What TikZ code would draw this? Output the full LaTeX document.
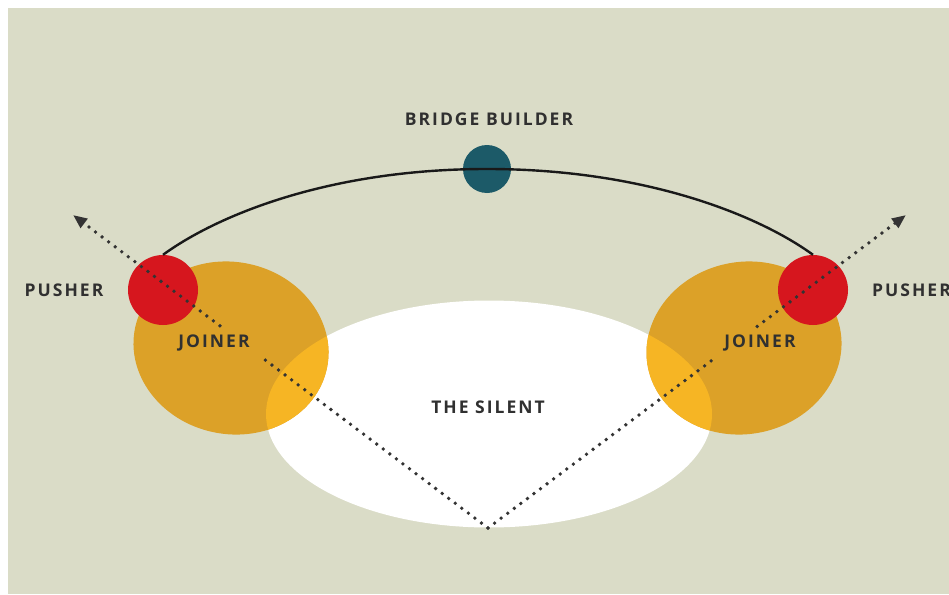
\documentclass[tikz,border=0pt]{standalone}
\usepackage{fontspec}
\usetikzlibrary{arrows.meta}
\newfontfamily\labfont{Open Sans}[LetterSpace=11.5]
\definecolor{bgc}{RGB}{218,220,199}
\definecolor{orangec}{RGB}{220,161,40}
\definecolor{overlapc}{RGB}{246,181,36}
\definecolor{redc}{RGB}{214,22,30}
\definecolor{tealc}{RGB}{28,90,104}
\definecolor{textc}{RGB}{48,48,48}
\tikzset{
  lab/.style={font=\labfont\bfseries\fontsize{17.5}{20}\selectfont, text=textc, inner sep=0pt},
  redball/.style={circle, fill=redc, minimum size=70pt, inner sep=0pt},
  tealball/.style={circle, fill=tealc, minimum size=48pt, inner sep=0pt},
  dotline/.style={line width=3.8pt, line cap=round, dash pattern=on 0pt off 8.2pt, draw=black!80},
  tipped/.style={-{Triangle[length=14pt,width=11pt]}},
  arcline/.style={line width=2.4pt, draw=black!90},
}
\begin{document}
\begin{tikzpicture}[x=1pt,y=-1pt]
\useasboundingbox (0,0) rectangle (949,594);
\fill[white] (0,0) rectangle (949,594);
\fill[bgc] (8,8) rectangle (949,594);
% silent ellipse
\coordinate (sc) at (489,414);
\fill[white] (sc) ellipse [x radius=223, y radius=113.5];
% joiner ellipses
\coordinate (ljc) at (231,348);
\coordinate (rjc) at (744,348);
\fill[orangec, rotate around={-12:(ljc)}] (ljc) ellipse [x radius=98, y radius=86];
\fill[orangec, rotate around={12:(rjc)}] (rjc) ellipse [x radius=98, y radius=86];
\begin{scope}
  \clip (sc) ellipse [x radius=223, y radius=113.5];
  \fill[overlapc, rotate around={-12:(ljc)}] (ljc) ellipse [x radius=98, y radius=86];
  \fill[overlapc, rotate around={12:(rjc)}] (rjc) ellipse [x radius=98, y radius=86];
\end{scope}
% red balls
\node[redball] (lred) at (163,290) {};
\node[redball] (rred) at (813,290) {};
% bridge builder
\node[tealball] (bb) at (487,169) {};
\draw[arcline] (lred.north) .. controls +(55,-40) and +(-157,0) .. (bb.center)
                 .. controls +(157,0) and +(-55,-40) .. (rred.north);
% dotted lines
\coordinate (apex) at (488,528);
\coordinate (ltip) at (73,215);
\coordinate (rtip) at (906,215);
\path (apex) -- (ltip) coordinate[pos=0.542] (lg1) coordinate[pos=0.646] (lg2);
\path (apex) -- (rtip) coordinate[pos=0.538] (rg1) coordinate[pos=0.644] (rg2);
\draw[dotline] (apex) -- (lg1);
\draw[dotline, tipped] (lg2) -- (ltip);
\draw[dotline] (apex) -- (rg1);
\draw[dotline, tipped] (rg2) -- (rtip);
% labels
\node[lab] (tbb) at (489,119) {BRIDGE BUILDER};
\node[lab] (tlp) at (64,290.5) {PUSHER};
\node[lab, anchor=west] (trp) at (872,290.5) {PUSHER};
\node[lab] (tlj) at (214,342.5) {JOINER};
\node[lab] (trj) at (760,342.5) {JOINER};
\node[lab] (tsi) at (488,407) {THE SILENT};
\end{tikzpicture}
\end{document}
